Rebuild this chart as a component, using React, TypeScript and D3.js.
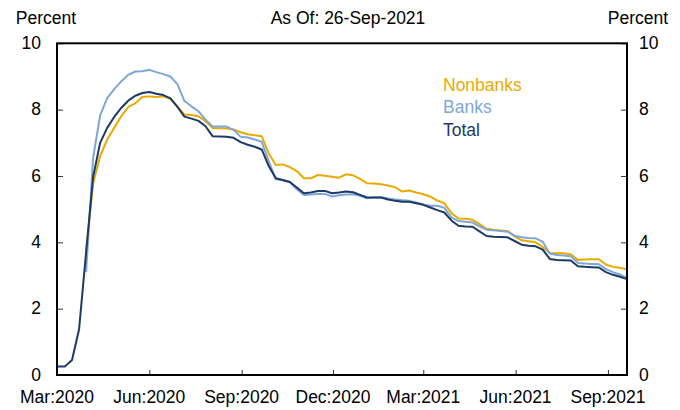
import React, { useEffect, useRef } from 'react';
import * as d3 from 'd3';

// weekly observations, first one on 2-Mar-2020
const startDate = Date.UTC(2020, 2, 2);

const total = [
    0.26, 0.26, 0.45, 1.38, 3.7, 5.97, 7.0, 7.45, 7.78, 8.05,
    8.27, 8.42, 8.5, 8.53, 8.48, 8.44, 8.34, 8.08, 7.79, 7.73,
    7.66, 7.5, 7.2, 7.19, 7.18, 7.15, 7.02, 6.94, 6.88, 6.8,
    6.3, 5.93, 5.88, 5.82, 5.65, 5.48, 5.5, 5.55, 5.55, 5.48,
    5.5, 5.53, 5.51, 5.43, 5.35, 5.35, 5.35, 5.29, 5.25, 5.22,
    5.22, 5.18, 5.13, 5.05, 4.97, 4.9, 4.66, 4.5, 4.48, 4.47,
    4.33, 4.19, 4.17, 4.16, 4.15, 4.04, 3.93, 3.9, 3.88, 3.78,
    3.5, 3.47, 3.46, 3.45, 3.28, 3.26, 3.25, 3.24, 3.1, 3.02,
    2.96, 2.89,
];

const banks = [
    null, null, null, null, 3.1, 6.55, 7.83, 8.35, 8.62, 8.85,
    9.05, 9.15, 9.16, 9.2, 9.13, 9.07, 9.0, 8.77, 8.26, 8.1,
    7.95, 7.7, 7.49, 7.49, 7.49, 7.39, 7.18, 7.16, 7.1, 7.03,
    6.45, 5.9, 5.87, 5.82, 5.6, 5.43, 5.44, 5.46, 5.46, 5.38,
    5.42, 5.44, 5.45, 5.4, 5.33, 5.35, 5.36, 5.32, 5.29, 5.27,
    5.25, 5.2, 5.14, 5.1, 5.1, 5.04, 4.75, 4.64, 4.62, 4.6,
    4.48, 4.38, 4.36, 4.34, 4.32, 4.2, 4.15, 4.13, 4.12, 4.02,
    3.66, 3.62, 3.6, 3.58, 3.38, 3.36, 3.35, 3.34, 3.19, 3.1,
    3.03, 2.93,
];

const nonbanks = [
    null, null, null, null, 3.75, 5.77, 6.6, 7.1, 7.45, 7.8,
    8.08, 8.19, 8.38, 8.4, 8.38, 8.4, 8.33, 8.1, 7.85, 7.84,
    7.8, 7.65, 7.45, 7.44, 7.43, 7.4, 7.32, 7.26, 7.23, 7.2,
    6.68, 6.33, 6.35, 6.27, 6.15, 5.93, 5.93, 6.03, 6.01, 5.98,
    5.95, 6.05, 6.02, 5.91, 5.78, 5.77, 5.75, 5.71, 5.66, 5.53,
    5.56, 5.5, 5.45, 5.38, 5.26, 5.18, 4.88, 4.72, 4.71, 4.68,
    4.55, 4.41, 4.38, 4.36, 4.34, 4.18, 4.06, 4.03, 4.0, 3.86,
    3.68, 3.67, 3.67, 3.64, 3.47, 3.48, 3.49, 3.49, 3.33, 3.26,
    3.23, 3.19,
];

const yTicks = [0, 2, 4, 6, 8, 10];
const xTickDates = [
    Date.UTC(2020, 2, 1), Date.UTC(2020, 5, 1), Date.UTC(2020, 8, 1), Date.UTC(2020, 11, 1),
    Date.UTC(2021, 2, 1), Date.UTC(2021, 5, 1), Date.UTC(2021, 8, 1),
];
const xTickLabels = ['Mar:2020', 'Jun:2020', 'Sep:2020', 'Dec:2020', 'Mar:2021', 'Jun:2021', 'Sep:2021'];

const seriesNames = ['Nonbanks', 'Banks', 'Total'];
const seriesColors = ['#E8AA00', '#7FA6D8', '#1C3A66'];

const FONT = '"Liberation Sans", Arial, sans-serif';

const Chart: React.FC = () => {
    const ref = useRef<SVGSVGElement>(null);

    useEffect(() => {
        if (!ref.current) return;
        const svg = d3.select(ref.current);
        svg.selectAll('*').remove();

        const left = 57, right = 627, top = 43.3, bottom = 375;

        const x = d3.scaleUtc()
            .domain([new Date(Date.UTC(2020, 2, 1)), new Date(Date.UTC(2021, 8, 20))])
            .range([left, right]);
        const y = d3.scaleLinear().domain([0, 10]).range([bottom, top]);

        const dates = total.map((_, i) => d3.utcDay.offset(new Date(startDate), 7 * i));

        // series, drawn back to front: nonbanks, banks, total
        const allSeries = [nonbanks, banks, total];
        allSeries.forEach((vals, si) => {
            const line = d3.line<number | null>()
                .defined(d => d !== null)
                .x((_, i) => x(dates[i]))
                .y(d => y(d as number));
            svg.append('path')
                .attr('d', line(vals) as string)
                .attr('fill', 'none')
                .attr('stroke', seriesColors[si])
                .attr('stroke-width', 2)
                .attr('stroke-linejoin', 'round');
        });

        // ticks point inward on all three axes
        const leftAxis = svg.append('g')
            .attr('transform', `translate(${left},0)`)
            .call(d3.axisRight(y).tickValues(yTicks).tickSize(6).tickFormat(() => ''));
        leftAxis.select('.domain').remove();
        leftAxis.selectAll('line').attr('stroke', '#333');

        const rightAxis = svg.append('g')
            .attr('transform', `translate(${right},0)`)
            .call(d3.axisLeft(y).tickValues(yTicks).tickSize(6).tickFormat(() => ''));
        rightAxis.select('.domain').remove();
        rightAxis.selectAll('line').attr('stroke', '#333');

        const bottomAxis = svg.append('g')
            .attr('transform', `translate(0,${bottom})`)
            .call(d3.axisTop(x).tickValues(xTickDates.map(d => new Date(d))).tickSize(5).tickFormat(() => ''));
        bottomAxis.select('.domain').remove();
        bottomAxis.selectAll('line').attr('stroke', '#333');

        // frame
        svg.append('rect')
            .attr('x', left).attr('y', top)
            .attr('width', right - left).attr('height', bottom - top)
            .attr('fill', 'none').attr('stroke', '#000').attr('stroke-width', 2);

        const text = (tx: number, ty: number, s: string, anchor: string, color = '#000') =>
            svg.append('text')
                .attr('x', tx).attr('y', ty)
                .attr('text-anchor', anchor)
                .attr('dominant-baseline', 'middle')
                .attr('font-family', FONT)
                .attr('font-size', 17.5)
                .attr('fill', color)
                .text(s);

        yTicks.forEach(t => {
            text(41, y(t) + 1, String(t), 'end');
            text(639, y(t) + 1, String(t), 'start');
        });
        xTickDates.forEach((d, i) => text(x(new Date(d)), 398, xTickLabels[i], 'middle'));

        text(46, 19, 'Percent', 'middle');
        text(638, 19, 'Percent', 'middle');
        text(348, 19, 'As Of: 26-Sep-2021', 'middle');

        seriesNames.forEach((n, i) => text(443, 86 + i * 22.5, n, 'start', seriesColors[i]));
    }, []);

    return (
        <svg ref={ref} width={680} height={410}
            style={{ position: 'absolute', left: 0, top: 0, display: 'block', background: '#fff' }} />
    );
};

export default function App() {
    return <Chart />;
}
